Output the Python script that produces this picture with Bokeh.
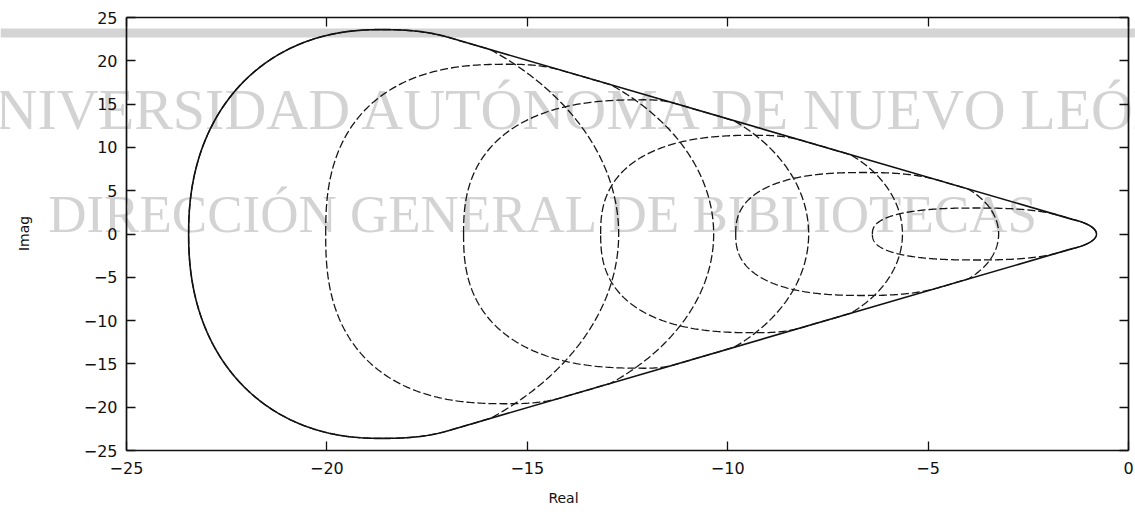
import numpy as np
from bokeh.plotting import figure
from bokeh.models import Range1d, FixedTicker, LinearAxis, Label, BoxAnnotation
from bokeh.embed import file_html
from bokeh.resources import INLINE

# ---------------- data ----------------
# six members of the family (largest = solid envelope cap)
left_edge = [-23.45, -20.03, -16.59, -13.17, -9.80, -6.39]     # left crossing of the real axis
top_x = [-18.66, -15.49, -12.10, -9.30, -6.60, -3.80]           # real part at the top of the left arc
top_height = [23.6, 19.6, 15.5, 11.4, 7.1, 3.0]                 # height of the left arc
left_roundness = [2.2, 2.5, 2.5, 2.5, 2.5, 2.5]                 # squareness of the left arc
right_start = [-15.92, -12.92, -9.85, -6.94, -4.02, -1.40]      # real part where right arc leaves cone line
right_edge = [-12.72, -10.35, -7.98, -5.64, -3.24, -0.80]       # right crossing of the real axis
cone_slope = 1.35      # |Imag| / |Real| of the two straight boundary lines
cone_apex = -0.15      # where the boundary lines meet the real axis

x_ticks = [-25, -20, -15, -10, -5, 0]
y_ticks = [-25, -20, -15, -10, -5, 0, 5, 10, 15, 20, 25]
x_tick_labels = ["\u221225", "\u221220", "\u221215", "\u221210", "\u22125", "0"]
y_tick_labels = ["\u221225", "\u221220", "\u221215", "\u221210", "\u22125", "0",
                 "5", "10", "15", "20", "25"]

x_title = "Real"
y_title = "Imag"
watermark_1 = "UNIVERSIDAD AUTÓNOMA DE NUEVO LEÓN"
watermark_2 = "DIRECCIÓN GENERAL DE BIBLIOTECAS"

# ---------------- shape helpers ----------------
SE_R = 2.5      # roundness of the shoulder that joins the cone line
RB_F = 1.27     # relative height of right arcs


def cone_y(x):
    return cone_slope * (cone_apex - np.asarray(x, dtype=float))


def shoulder(xt, ar, b, n=200):
    th = np.linspace(np.pi / 2, 0, n)
    return xt + ar * np.cos(th) ** (2 / SE_R), b * np.sin(th) ** (2 / SE_R)


def left_part(L, xt, b, pl, n=160):
    """Rounded left arc, then a shoulder that meets the cone line tangentially."""
    a = xt - L
    th = np.linspace(0, np.pi / 2, n)
    x1 = xt - a * np.cos(th) ** (2 / pl)
    y1 = b * np.sin(th) ** (2 / pl)
    lo, hi = 1e-3, 60.0
    for _ in range(60):
        mid = 0.5 * (lo + hi)
        xs, ys = shoulder(xt, mid, b)
        if np.max(ys - cone_y(xs)) > 0:
            hi = mid
        else:
            lo = mid
    xs, ys = shoulder(xt, hi, b)
    k = int(np.argmax(ys - cone_y(xs)))
    x2, y2 = xs[1:k + 1], ys[1:k + 1]
    return np.concatenate([x1, x2]), np.concatenate([y1, y2])


def right_arc(Q, R, n=90):
    yq = float(cone_y(Q))
    br = RB_F * yq
    ar = (R - Q) / (1 - np.sqrt(1 - (yq / br) ** 2))
    y = np.linspace(yq, 0, n)
    x = (R - ar) + ar * np.sqrt(np.clip(1 - (y / br) ** 2, 0, None))
    return x, y


def closed(xu, yu):
    xs = np.concatenate([xu, xu[::-1]])
    ys = np.concatenate([yu, -yu[::-1]])
    return xs, ys


members_x, members_y = [], []
for L, xt, b, pl, Q, R in zip(left_edge, top_x, top_height, left_roundness, right_start, right_edge):
    lx, ly = left_part(L, xt, b, pl)
    rx, ry = right_arc(Q, R)
    xs, ys = closed(np.concatenate([lx, rx]), np.concatenate([ly, ry]))
    members_x.append(list(xs))
    members_y.append(list(ys))

# solid envelope: cap of the largest member, cone lines, tip of the smallest
lx, ly = left_part(left_edge[0], top_x[0], top_height[0], left_roundness[0])
rx, ry = right_arc(right_start[-1], right_edge[-1])
env_x, env_y = closed(np.concatenate([lx, rx]), np.concatenate([ly, ry]))

# ---------------- figure ----------------
W, H = 1135, 515
FR_L, FR_R, FR_T, FR_B = 126, 1128, 17, 450      # where the axes box sits on the page
sx = (FR_R - FR_L) / (x_ticks[-1] - x_ticks[0])
sy = (FR_B - FR_T) / (y_ticks[-1] - y_ticks[0])
xr = Range1d(x_ticks[0] - FR_L / sx, x_ticks[-1] + (W - FR_R) / sx)
yr = Range1d(y_ticks[0] - (H - FR_B) / sy, y_ticks[-1] + FR_T / sy)

p = figure(width=W, height=H, x_range=xr, y_range=yr,
           output_backend="svg", toolbar_location=None,
           x_axis_location=None, y_axis_location=None,
           min_border=0, min_border_left=0, min_border_right=0,
           min_border_top=0, min_border_bottom=0)
p.grid.visible = False
p.background_fill_color = "white"
p.border_fill_color = "white"
p.outline_line_color = None

TICK_FONT = "DejaVu Sans"
INK = "#111111"


def make_axis(ticks, labels, fixed, bounds, show_labels, standoff=9):
    ax = LinearAxis(ticker=FixedTicker(ticks=ticks), fixed_location=fixed, bounds=bounds,
                    major_tick_in=9, major_tick_out=0, minor_tick_in=0, minor_tick_out=0,
                    axis_line_width=1.7, axis_line_color=INK,
                    major_tick_line_color=INK, major_tick_line_width=1.3,
                    major_label_standoff=standoff,
                    major_label_text_font=TICK_FONT, major_label_text_font_size="16px")
    if show_labels:
        ax.major_label_overrides = {t: s for t, s in zip(ticks, labels)}
        ax.major_label_text_color = INK
    else:
        ax.major_label_text_color = None
    return ax


p.add_layout(make_axis(x_ticks, x_tick_labels, y_ticks[0], (x_ticks[0], x_ticks[-1]), True, 11), "below")
p.add_layout(make_axis(y_ticks, y_tick_labels, x_ticks[0], (y_ticks[0], y_ticks[-1]), True, 9), "left")
p.add_layout(make_axis(x_ticks, x_tick_labels, y_ticks[-1], (x_ticks[0], x_ticks[-1]), False), "above")
p.add_layout(make_axis(y_ticks, y_tick_labels, x_ticks[-1], (y_ticks[0], y_ticks[-1]), False), "right")

# axis titles (screen units: from the page's left / bottom edge)
p.add_layout(Label(x=563, y=H - 497, x_units="screen", y_units="screen", text=x_title,
                   text_font=TICK_FONT, text_font_size="14px", text_color=INK,
                   text_align="center", text_baseline="middle"))
p.add_layout(Label(x=23, y=H - 233, x_units="screen", y_units="screen", text=y_title,
                   angle=np.pi / 2, text_font=TICK_FONT, text_font_size="14px", text_color=INK,
                   text_align="center", text_baseline="middle"))

# watermark of the scanned source (behind the curves)
p.add_layout(BoxAnnotation(left=0, right=W, bottom=H - 37, top=H - 28,
                           left_units="screen", right_units="screen",
                           bottom_units="screen", top_units="screen",
                           fill_color="#d4d4d4", fill_alpha=1.0, line_alpha=0,
                           level="underlay"))
p.add_layout(Label(x=567, y=H - 109, x_units="screen", y_units="screen", text=watermark_1,
                   text_font="Liberation Serif", text_font_size="58px",
                   text_color="#d3d3d3", text_align="center", text_baseline="alphabetic",
                   level="underlay"))
p.add_layout(Label(x=543, y=H - 213, x_units="screen", y_units="screen", text=watermark_2,
                   text_font="Liberation Serif", text_font_size="53px",
                   text_color="#d3d3d3", text_align="center", text_baseline="alphabetic",
                   level="underlay"))

# dashed family
p.multi_line(members_x, members_y, line_color="#161616", line_width=1.3, line_dash="8 3")
# solid envelope
p.line(env_x, env_y, line_color=INK, line_width=1.6)

open("out.html", "w").write(file_html(p, INLINE))
